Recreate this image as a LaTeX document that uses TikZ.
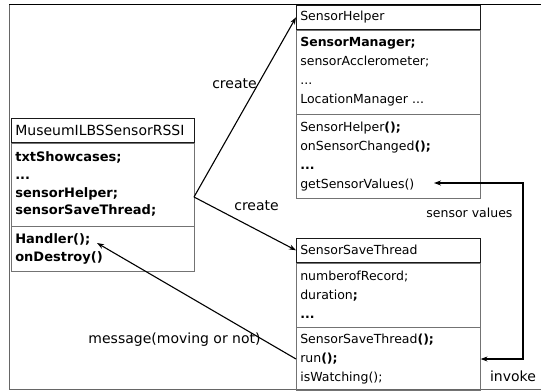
\documentclass[tikz,border=0pt]{standalone}
\usepackage{fontspec}
\setmainfont{DejaVu Sans}
\usetikzlibrary{arrows.meta,positioning}

\begin{document}
\begin{tikzpicture}[x=1pt,y=-1pt,
  font=\fontsize{14}{18}\selectfont,
  classbox/.style={draw=black!55, line width=0.6pt, text width=#1, inner xsep=4pt, inner ysep=0pt, align=left,
    font=\fontsize{12.5}{19}\selectfont},
  classtitle/.style={classbox=#1, draw=black!90, minimum height=24pt},
  bigbox/.style={font=\fontsize{13}{17.7}\selectfont},
  flow/.style={line width=1.1pt, -{Stealth[length=7pt,width=5pt]}}]
\useasboundingbox (0,0) rectangle (541,391);
%draw frame
\draw[black!60, line width=0.8pt] (9,4) -- (9,389) -- (541,389);
\draw[line width=1pt] (9,4) -- (541,4);
%draw activity class
\node[classtitle=175pt, bigbox, font=\fontsize{14}{17.7}\selectfont, anchor=north west] (mt) at (11,118) {MuseumILBSSensorRSSI};
\node[classbox=175pt, bigbox, minimum height=83pt, below=0pt of mt] (ma) {\textbf{txtShowcases;}\\ \textbf{...}\\ \textbf{sensorHelper;}\\ \textbf{sensorSaveThread;}};
\node[classbox=175pt, bigbox, minimum height=45pt, below=0pt of ma] (mm) {\textbf{Handler();}\\ \textbf{onDestroy()}};
%draw helper class
\node[classtitle=176pt, anchor=north west] (ht) at (296,5) {SensorHelper};
\node[classbox=176pt, minimum height=84pt, below=0pt of ht] (ha) {\textbf{SensorManager;}\\ sensorAcclerometer;\\ ...\\ LocationManager ...};
\node[classbox=176pt, minimum height=84pt, below=0pt of ha] (hm) {SensorHelper\textbf{();}\\ onSensorChanged\textbf{();}\\ \textbf{...}\\ getSensorValues()};
%draw thread class
\node[classtitle=176pt, anchor=north west] (st) at (296,238) {SensorSaveThread};
\node[classbox=176pt, minimum height=64pt, below=0pt of st] (sa) {numberofRecord;\\ duration\textbf{;}\\ \textbf{...}};
\node[classbox=176pt, minimum height=63pt, below=0pt of sa] (sm) {SensorSaveThread\textbf{();}\\ run\textbf{();}\\ isWatching();};
%draw connectors
\coordinate (fork) at (194,197);
\coordinate (handler) at (97,243);
\coordinate (getv) at (434,183);
\draw[flow] (fork) -- (ht.west) node[pos=0.63, anchor=east, inner sep=1pt] {create};
\draw[flow] (fork) -- (st.west) node[pos=0.38, anchor=south west, inner sep=1pt, yshift=5pt] {create};
\draw[flow] (sm.west) -- (handler) node[pos=0.17, anchor=east, inner sep=1pt] {message(moving or not)};
\draw[flow, {Stealth[length=7pt,width=5pt]}-{Stealth[length=7pt,width=5pt]}] (getv) -- ++(89,0) coordinate (vt)
  -- (vt |- sm.east) coordinate (vb) node[pos=0.17, anchor=east, inner sep=1pt, xshift=-9pt, font=\fontsize{12.5}{15}\selectfont] {sensor values}
  node[pos=1, anchor=north, inner sep=1pt, xshift=-10pt, yshift=-10pt] {invoke} -- (sm.east);
\end{tikzpicture}
\end{document}
